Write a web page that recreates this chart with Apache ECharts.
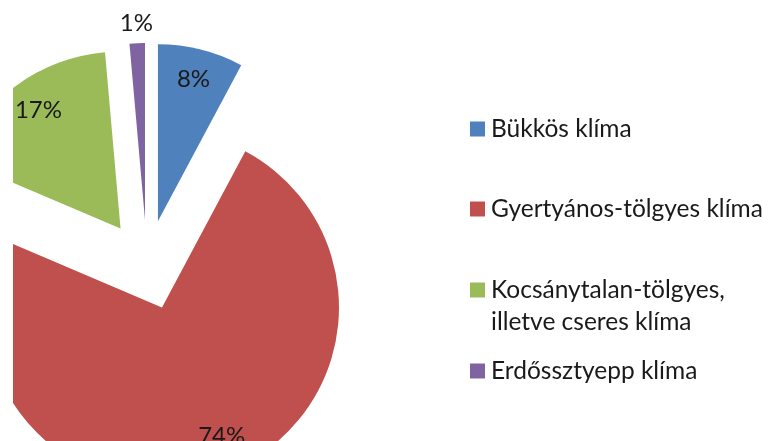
<!DOCTYPE html>
<html>
<head>
<meta charset="utf-8">
<script src="https://cdn.jsdelivr.net/npm/echarts@6/dist/echarts.min.js"></script>
<style>
  html, body { margin: 0; padding: 0; background: #fff; }
  #wrap { width: 769px; height: 441px; position: relative; overflow: hidden; background: #fff; }
  #chart01 { position: absolute; left: 13px; top: 0; width: 756px; height: 441px; }
</style>
</head>
<body>
<div id="wrap"><div id="chart01"></div></div>
<script>
// adatok
var categories = ['Bükkös klíma', 'Gyertyános-tölgyes klíma', 'Kocsánytalan-tölgyes, illetve cseres klíma', 'Erdőssztyepp klíma'];
var values = [7.8, 73.6, 17.2, 1.4];
var colors = ['#4F81BD', '#C0504D', '#9BBB59', '#8064A2'];
var legendCenters = [129, 209, 290, 371];

var font = 'Lato';
// a rajzterület 13px-tel jobbra kezdődik
var pieCenter = [134, 265];

function pieData(showLabels, transparent) {
  return categories.map(function (name, i) {
    return {
      name: name,
      value: values[i],
      selected: true,
      itemStyle: { color: transparent ? 'rgba(0,0,0,0)' : colors[i] },
      label: { show: showLabels.indexOf(i) >= 0 }
    };
  });
}

// feliratok finomhangolása (Excel nem pontosan a felezőre teszi)
function nudge(params) {
  if (params.dataIndex === 1) return { dx: 11, dy: -9 };
  if (params.dataIndex === 2) return { dx: 4, dy: 0 };
  return {};
}

function pieSeries(radius, showLabels, transparent) {
  return {
    type: 'pie',
    center: pieCenter,
    radius: radius,
    startAngle: 90,
    clockwise: true,
    selectedMode: 'multiple',
    selectedOffset: 45,
    percentPrecision: 0,
    avoidLabelOverlap: false,
    silent: true,
    animation: false,
    emphasis: { disabled: true },
    itemStyle: { borderWidth: 0 },
    label: {
      position: 'inside',
      formatter: '{d}%',
      color: '#1a1a1a',
      fontFamily: font,
      fontSize: 24
    },
    labelLine: { show: false },
    labelLayout: nudge,
    data: pieData(showLabels, transparent)
  };
}

// jelmagyarázat, egy tétel = egy legend
var legends = categories.map(function (name, i) {
  var twoLine = name.indexOf(', ') > 0;
  var lh = twoLine ? 32 : 30;
  var h = twoLine ? lh * 3 : lh;
  return {
    data: [name],
    orient: 'vertical',
    left: 457,
    top: legendCenters[i] - h / 2,
    padding: 0,
    itemWidth: 15,
    itemHeight: 15,
    itemGap: 0,
    icon: 'rect',
    selectedMode: false,
    formatter: function (n) {
      return twoLine ? '\n' + n.replace(', ', ',\n') : n;
    },
    textStyle: {
      fontFamily: font,
      fontSize: 24.5,
      color: '#1a1a1a',
      lineHeight: lh,
      padding: [0, 0, 0, 1]
    }
  };
});

var chart01 = echarts.init(document.getElementById('chart01'));
var option = {
  backgroundColor: '#fff',
  animation: false,
  legend: legends,
  series: [
    pieSeries([0, 177], [], false),
    pieSeries([110, 177], [0, 1, 2], true),
    pieSeries([177, 211], [3], true)
  ]
};
chart01.setOption(option);
</script>
</body>
</html>
